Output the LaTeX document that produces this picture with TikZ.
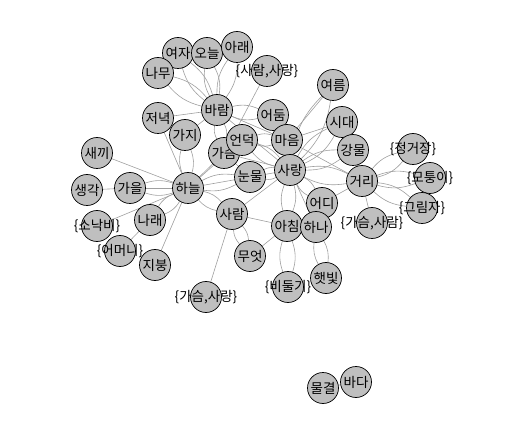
\documentclass[tikz,border=0pt]{standalone}
\usepackage{fontspec}
\newfontfamily\kr{Noto Sans CJK KR}
\usetikzlibrary{backgrounds}
\tikzset{
  word/.style={circle, draw=black, line width=0.7pt, fill=gray!50, minimum size=31pt, inner sep=0pt,
    label={[font=\kr\fontsize{13.5}{14}\selectfont, inner sep=0pt]center:#1}},
  link/.style={draw=gray!75, line width=0.6pt},
}
\begin{document}
\begin{tikzpicture}[x=1pt,y=-1pt]
        \useasboundingbox (0,0) rectangle (519,430);
        % upper group
        \node [word=여자] (yeoja) at (178,53) {};
        \node [word=오늘] (oneul) at (207,53) {};
        \node [word=아래] (arae) at (237,47) {};
        \node [word=나무] (namu) at (158,73) {};
        \node [word={\{사람,사랑\}}] (sarang2) at (267,71) {};
        \node [word=바람] (baram) at (217,110) {};
        \node [word=저녁] (jeonyeok) at (158,118) {};
        \node [word=가지] (gaji) at (185,135) {};
        \node [word=어둠] (eodum) at (273,115) {};
        \node [word=여름] (yeoreum) at (333,85) {};
        \node [word=시대] (sidae) at (342,122) {};
        \node [word=가슴] (gaseum) at (224,153) {};
        \node [word=언덕] (eondeok) at (242,140) {};
        \node [word=마음] (maeum) at (287,140) {};
        \node [word=강물] (gangmul) at (353,150) {};
        % middle
        \node [word=새끼] (saekki) at (97,153) {};
        \node [word=생각] (saenggak) at (87,190) {};
        \node [word=가을] (gaeul) at (130,188) {};
        \node [word=하늘] (haneul) at (188,188) {};
        \node [word=눈물] (nunmul) at (250,177) {};
        \node [word=사랑] (sarang) at (290,170) {};
        \node [word=거리] (geori) at (362,181) {};
        \node [word={\{정거장\}}] (jeonggeojang) at (413,149) {};
        \node [word={\{모퉁이\}}] (motungi) at (430,178) {};
        \node [word={\{그림자\}}] (geurimja) at (422,208) {};
        % lower group
        \node [word={\{소낙비\}}] (sonakbi) at (97,226) {};
        \node [word=나래] (narae) at (150,220) {};
        \node [word={\{어머니\}}] (eomeoni) at (120,251) {};
        \node [word=지붕] (jibung) at (155,265) {};
        \node [word=사람] (saram) at (232,214) {};
        \node [word=무엇] (mueot) at (250,256) {};
        \node [word={\{가슴,사랑\}}] (gaseum2) at (206,297) {};
        \node [word=어디] (eodi) at (322,203) {};
        \node [word=아침] (achim) at (287,226) {};
        \node [word=하나] (hana) at (316,227) {};
        \node [word={\{가슴,사람\}}] (gaseum3) at (372,223) {};
        \node [word={\{비둘기\}}] (bidulgi) at (288,287) {};
        \node [word=햇빛] (haetbit) at (326,278) {};
        \node [word=물결] (mulgyeol) at (323,388) {};
        \node [word=바다] (bada) at (356,382) {};

        \begin{scope}[on background layer]
        % twin links
        \foreach \a/\b in {baram/yeoja, baram/oneul, baram/arae, baram/namu, baram/eodum,
            haneul/gaeul, haneul/narae, haneul/nunmul, haneul/saram, saram/mueot,
            achim/bidulgi, hana/haetbit, geori/jeonggeojang, geori/motungi, geori/geurimja,
            geori/sarang, sarang/yeoreum, sarang/sidae, sarang/gangmul, sarang/maeum,
            sarang/nunmul, sarang/eondeok, sarang/achim, sarang/eodi, baram/gaseum,
            haneul/gaji, maeum/eondeok}
          {
            \draw [link] (\a) to [bend left=18] (\b);
            \draw [link] (\a) to [bend right=18] (\b);
          }
        % single links
        \foreach \a/\b in {haneul/saekki, gaeul/saenggak, haneul/sonakbi, haneul/jibung,
            narae/eomeoni, haneul/gaeul, saram/gaseum2, saram/achim, achim/mueot,
            sarang2/gaseum, geori/gaseum3, geori/eodi, geori/maeum, baram/jeonyeok,
            baram/gaji, baram/maeum, baram/sarang, eodum/maeum, eodum/sarang,
            yeoreum/maeum, sarang/gaseum, sarang/hana, sarang/haneul, haneul/gaseum,
            haneul/eondeok, haneul/jeonyeok, gaseum/nunmul, saram/sarang, achim/hana,
            maeum/sidae, geori/gangmul, mulgyeol/bada}
          \draw [link] (\a) -- (\b);
        \end{scope}
      \end{tikzpicture}
\end{document}
